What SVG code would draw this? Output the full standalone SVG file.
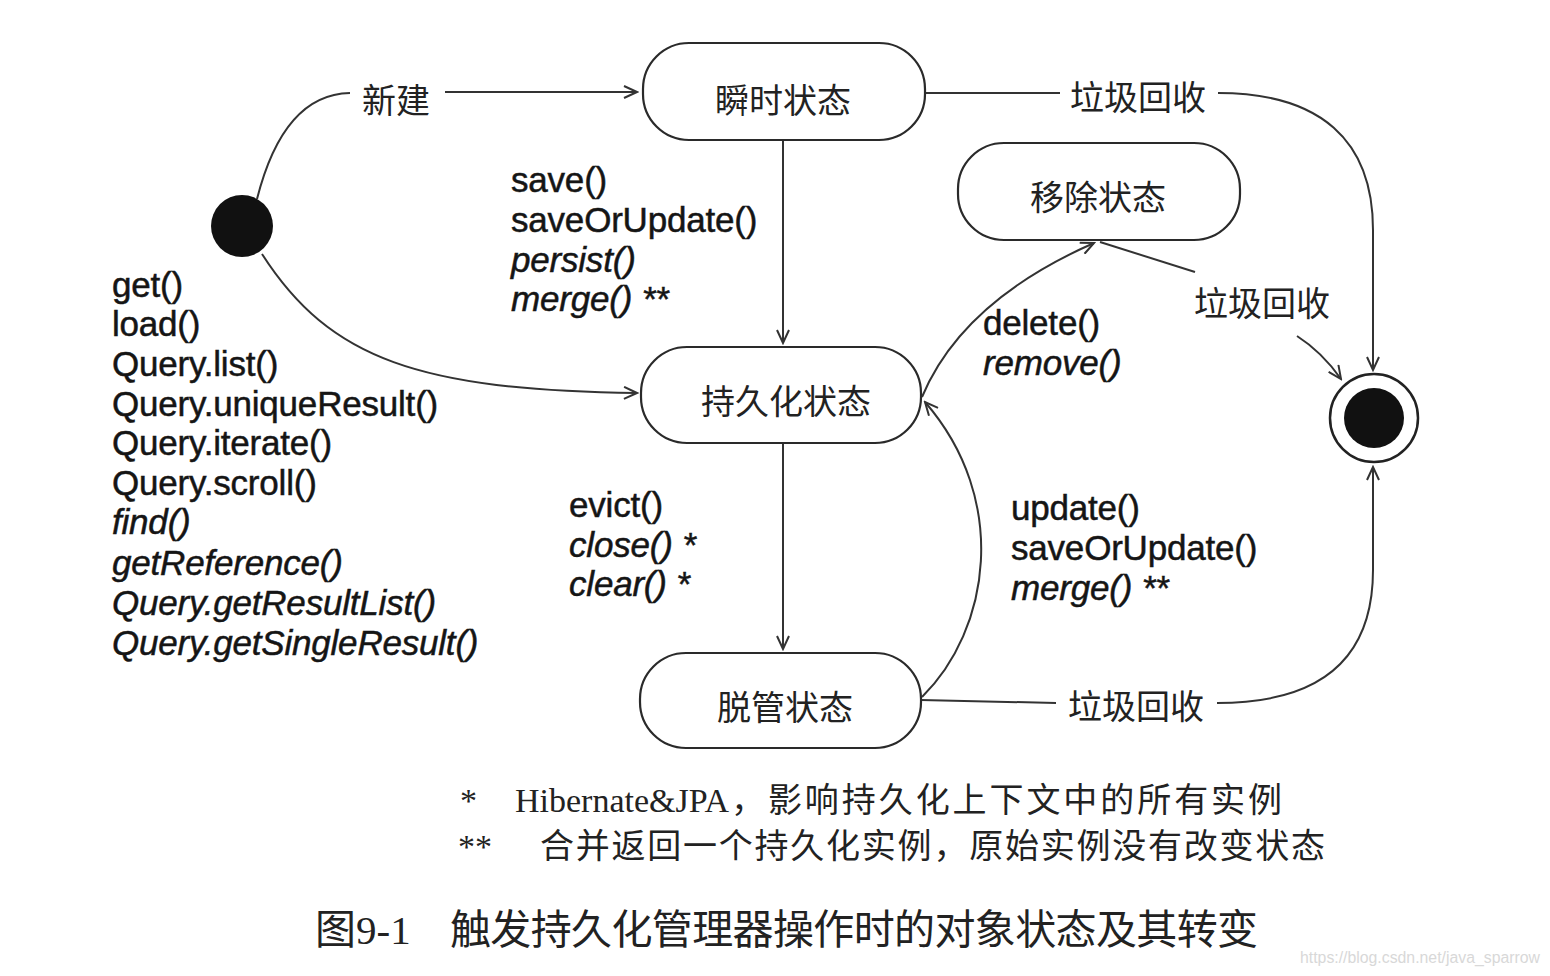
<svg xmlns="http://www.w3.org/2000/svg" width="1550" height="976" viewBox="0 0 1550 976">
<style>
.node{fill:#fff;stroke:#2a2a2a;stroke-width:2.2}
.edge{fill:none;stroke:#333;stroke-width:2}
.cn{font-family:"Noto Sans CJK SC","Noto Sans CJK JP",sans-serif;font-size:34px;fill:#222}
.lbl{font-family:"Liberation Sans",Arial,sans-serif;font-size:35px;fill:#151515;stroke:#151515;stroke-width:0.5;letter-spacing:-0.2px}
.it{font-style:italic}
.note{font-family:"Liberation Serif","Noto Sans CJK SC",serif;font-size:34px;fill:#222}
.cap{font-family:"Liberation Serif","Noto Sans CJK SC",serif;font-size:41px;fill:#222}
.wm{font-family:"Liberation Sans",Arial,sans-serif;font-size:16px;fill:#d8d8d8}
</style>
<defs>
<marker id="arr" markerWidth="16" markerHeight="14" refX="14" refY="7" orient="auto" markerUnits="userSpaceOnUse">
<path d="M1,1 L14,7 L1,13" fill="none" stroke="#333" stroke-width="2"/>
</marker>
</defs>
<rect width="1550" height="976" fill="#fff"/>

<g id="connectors">
<path class="edge" d="M257,199 C272,140 300,94 350,93"/>
<path class="edge" d="M445,92 L637,92" marker-end="url(#arr)"/>
<text class="cn" x="362" y="113">新建</text>
<path class="edge" d="M262,254 C330,360 420,390 637,393" marker-end="url(#arr)"/>
<path class="edge" d="M783,141 L783,343" marker-end="url(#arr)"/>
<path class="edge" d="M783,444 L783,649" marker-end="url(#arr)"/>
<path class="edge" d="M922,697 C990,630 1010,500 925,402" marker-end="url(#arr)"/>
<path class="edge" d="M922,397 C950,330 1010,280 1094,243" marker-end="url(#arr)"/>
<path class="edge" d="M1100,242 L1195,272"/>
<text class="cn" x="1194" y="316">垃圾回收</text>
<path class="edge" d="M1297,336 Q1322,352 1341,379" marker-end="url(#arr)"/>
<path class="edge" d="M926,93 L1060,93"/>
<text class="cn" x="1070" y="110">垃圾回收</text>
<path class="edge" d="M1218,93 C1320,93 1373,140 1373,230 L1373,370" marker-end="url(#arr)"/>
<path class="edge" d="M921,700 L1056,703"/>
<text class="cn" x="1068" y="719">垃圾回收</text>
<path class="edge" d="M1217,703 C1320,703 1373,660 1373,570 L1373,467" marker-end="url(#arr)"/>

<text class="lbl" x="511" y="192">save()</text>
<text class="lbl" x="511" y="232">saveOrUpdate()</text>
<text class="lbl it" x="511" y="272">persist()</text>
<text class="lbl it" x="511" y="311">merge() **</text>

<text class="lbl" x="112" y="297">get()</text>
<text class="lbl" x="112" y="336">load()</text>
<text class="lbl" x="112" y="376">Query.list()</text>
<text class="lbl" x="112" y="416">Query.uniqueResult()</text>
<text class="lbl" x="112" y="455">Query.iterate()</text>
<text class="lbl" x="112" y="495">Query.scroll()</text>
<text class="lbl it" x="112" y="534">find()</text>
<text class="lbl it" x="112" y="575">getReference()</text>
<text class="lbl it" x="112" y="615">Query.getResultList()</text>
<text class="lbl it" x="112" y="655">Query.getSingleResult()</text>

<text class="lbl" x="569" y="517">evict()</text>
<text class="lbl it" x="569" y="557">close() *</text>
<text class="lbl it" x="569" y="596">clear() *</text>

<text class="lbl" x="1011" y="520">update()</text>
<text class="lbl" x="1011" y="560">saveOrUpdate()</text>
<text class="lbl it" x="1011" y="600">merge() **</text>

<text class="lbl" x="983" y="335">delete()</text>
<text class="lbl it" x="983" y="375">remove()</text>
</g>

<g id="initial">
<circle cx="242" cy="226" r="31" fill="#111"/>
</g>
<g id="final">
<circle cx="1374" cy="418" r="44" fill="#fff" stroke="#222" stroke-width="2.5"/>
<circle cx="1374" cy="418" r="30" fill="#111"/>
</g>
<g id="transient">
<rect class="node" x="643" y="43" width="282" height="97" rx="46"/>
<text class="cn" x="783" y="113" text-anchor="middle">瞬时状态</text>
</g>
<g id="removed">
<rect class="node" x="958" y="143" width="282" height="97" rx="46"/>
<text class="cn" x="1098" y="210" text-anchor="middle">移除状态</text>
</g>
<g id="persistent">
<rect class="node" x="641" y="347" width="280" height="96" rx="46"/>
<text class="cn" x="786" y="414" text-anchor="middle">持久化状态</text>
</g>
<g id="detached">
<rect class="node" x="640" y="653" width="281" height="95" rx="46"/>
<text class="cn" x="785" y="720" text-anchor="middle">脱管状态</text>
</g>

<g id="notes">
<text class="note" x="460" y="812">*</text>
<text class="note" x="515" y="812" font-size="35.5">Hibernate&amp;JPA</text>
<text class="note" x="731" y="812" textLength="551" lengthAdjust="spacing">，影响持久化上下文中的所有实例</text>
<text class="note" x="458" y="858">**</text>
<text class="note" x="540" y="858" textLength="785" lengthAdjust="spacing">合并返回一个持久化实例，原始实例没有改变状态</text>
<text class="cap" x="315" y="944">图9-1</text>
<text class="cap" x="450" y="944" textLength="808" lengthAdjust="spacing">触发持久化管理器操作时的对象状态及其转变</text>
<text class="wm" x="1300" y="963" textLength="240" lengthAdjust="spacingAndGlyphs">https://blog.csdn.net/java_sparrow</text>
</g>
</svg>
